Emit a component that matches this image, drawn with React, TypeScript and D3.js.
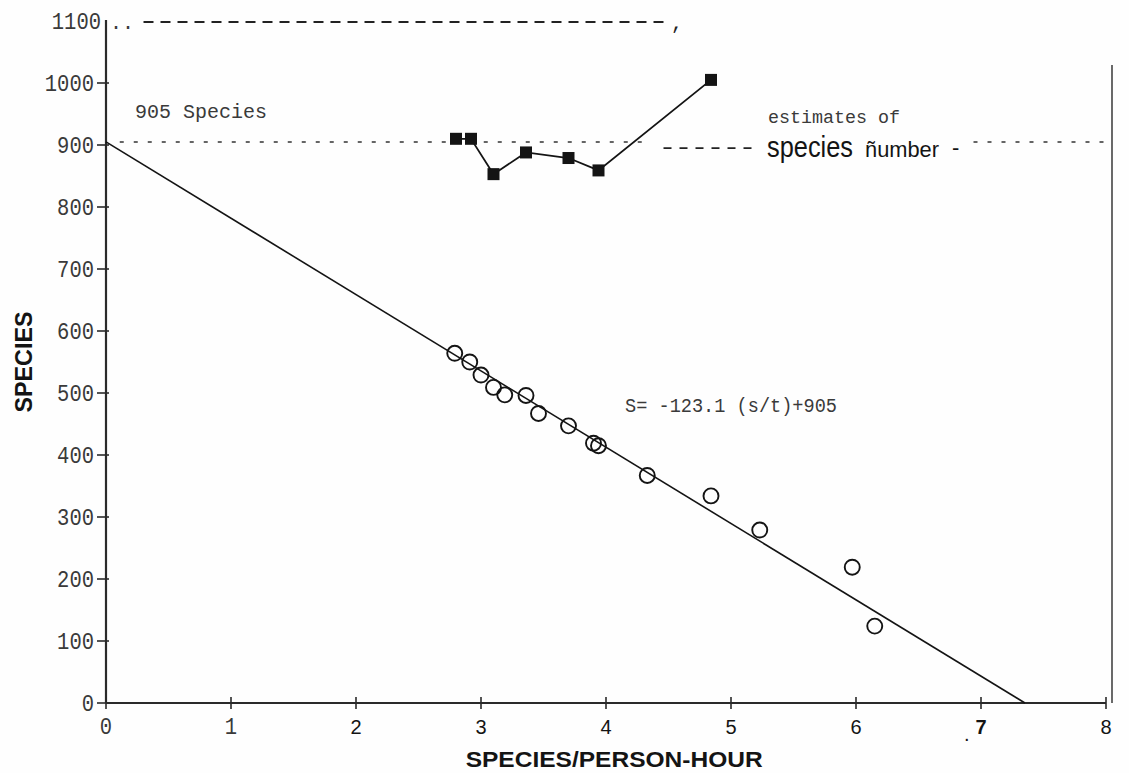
import React from "react";
import * as d3 from "d3";

// ---- data ----
const X_TICKS = [0, 1, 2, 3, 4, 5, 6, 7, 8];
const X_TICK_LABELS = ["0", "1", "2", "3", "4", "5", "6", "7", "8"];
const Y_TICKS = [0, 100, 200, 300, 400, 500, 600, 700, 800, 900, 1000, 1100];
const Y_TICK_LABELS = ["0", "100", "200", "300", "400", "500", "600", "700", "800", "900", "1000", "1100"];

// observed species counts vs species / person-hour (open circles)
const RATE = [2.79, 2.91, 3.0, 3.1, 3.19, 3.36, 3.46, 3.7, 3.9, 3.94, 4.33, 4.84, 5.23, 5.97, 6.15];
const SPECIES = [564, 550, 529, 509, 497, 496, 467, 447, 419, 415, 367, 334, 279, 219, 124];

// estimates of species number (filled squares)
const EST_RATE = [2.8, 2.92, 3.1, 3.36, 3.7, 3.94, 4.84];
const EST_NUMBER = [910, 910, 853, 888, 879, 859, 1005];

// regression S = -123.1 (s/t) + 905
const SLOPE = -123.1;
const INTERCEPT = 905;

const W = 1129;
const H = 773;

export default function App() {
  const xs = d3.scaleLinear().domain([0, 8]).range([106, 1106]);
  const ys = d3.scaleLinear().domain([0, 1000]).range([703, 83]);

  const mono = "'Liberation Mono', 'DejaVu Sans Mono', monospace";
  const sans = "'Liberation Sans', Arial, sans-serif";
  const ink = "#141414";
  const grey = "#3a3a3a";

  const circles = RATE.map((r, i) => ({ x: r, y: SPECIES[i] }));
  const squares = EST_RATE.map((r, i) => ({ x: r, y: EST_NUMBER[i] }));
  const line = d3
    .line<{ x: number; y: number }>()
    .x((d) => xs(d.x))
    .y((d) => ys(d.y));

  const xIntercept = -INTERCEPT / SLOPE;
  const y0 = ys(0);
  const x0 = xs(0);

  return (
    <svg
      width={W}
      height={H}
      style={{ position: "absolute", left: 0, top: 0, background: "#fefefe" }}
    >
      {/* axes */}
      <line x1={x0} x2={x0} y1={y0} y2={ys(1100) - 1} stroke="#2a2a2a" strokeWidth={2.2} />
      <line x1={x0} x2={xs(8)} y1={y0} y2={y0} stroke="#2a2a2a" strokeWidth={2.2} />
      <line x1={xs(8) + 6} x2={xs(8) + 6} y1={ys(1029)} y2={y0} stroke="#444" strokeWidth={1.6} />

      {/* y ticks */}
      {Y_TICKS.map((v, i) => (
        <g key={"y" + v}>
          {v < 1100 && (
            <line x1={x0 - 9} x2={x0 + 3} y1={ys(v)} y2={ys(v)} stroke="#2a2a2a" strokeWidth={1.6} />
          )}
          <text
            x={v === 1100 ? x0 - 5 : x0 - 12}
            y={ys(v) + 8}
            textAnchor="end"
            fontFamily={mono}
            fontSize={24}
            textLength={Y_TICK_LABELS[i].length * 12.3}
            lengthAdjust="spacingAndGlyphs"
            fill={grey}
          >
            {Y_TICK_LABELS[i]}
          </text>
        </g>
      ))}

      {/* x ticks */}
      {X_TICKS.map((v, i) => (
        <g key={"x" + v}>
          <line x1={xs(v)} x2={xs(v)} y1={y0 - 6} y2={y0 + 6} stroke="#2a2a2a" strokeWidth={1.6} />
          {i < 2 ? (
            <text
              x={xs(v)}
              y={y0 + 31}
              textAnchor="middle"
              fontFamily={mono}
              fontSize={24}
              textLength={12.3}
              lengthAdjust="spacingAndGlyphs"
              fill={grey}
            >
              {X_TICK_LABELS[i]}
            </text>
          ) : (
            <text
              x={xs(v)}
              y={y0 + 31}
              textAnchor="middle"
              fontFamily={sans}
              fontSize={20}
              fontWeight={v === 7 ? 700 : 400}
              fill={ink}
            >
              {X_TICK_LABELS[i]}
            </text>
          )}
        </g>
      ))}
      <text x={xs(7) - 17} y={y0 + 38} fontFamily={sans} fontSize={20} fill={ink}>
        .
      </text>

      {/* axis titles */}
      <text
        x={xs(4.065)}
        y={767}
        textAnchor="middle"
        fontFamily={sans}
        fontSize={22}
        fontWeight={700}
        textLength={297}
        lengthAdjust="spacingAndGlyphs"
        fill={ink}
      >
        SPECIES/PERSON-HOUR
      </text>
      <text
        transform="translate(32,362) rotate(-90)"
        textAnchor="middle"
        fontFamily={sans}
        fontSize={23}
        fontWeight={700}
        textLength={101}
        lengthAdjust="spacingAndGlyphs"
        fill={ink}
      >
        SPECIES
      </text>

      {/* 1100 dashed line */}
      <text x={x0 + 4} y={ys(1100) + 8} fontFamily={mono} fontSize={20} fill={grey}>
        ..
      </text>
      <line
        x1={xs(0.3)}
        x2={xs(4.49)}
        y1={ys(1100) + 1}
        y2={ys(1100) + 1}
        stroke="#222"
        strokeWidth={1.8}
        strokeDasharray="10 7"
      />
      <text x={xs(4.52)} y={ys(1100) + 8} fontFamily={mono} fontSize={20} fill="#222">
        ,
      </text>

      {/* 905 reference line */}
      <line
        x1={xs(0.11)}
        x2={xs(4.3)}
        y1={ys(905)}
        y2={ys(905)}
        stroke="#333"
        strokeWidth={1.5}
        strokeDasharray="4 10"
      />
      <line
        x1={xs(4.46)}
        x2={xs(5.2)}
        y1={ys(895)}
        y2={ys(895)}
        stroke="#222"
        strokeWidth={1.8}
        strokeDasharray="8 8"
      />
      <line
        x1={xs(6.94)}
        x2={xs(8.03)}
        y1={ys(905)}
        y2={ys(905)}
        stroke="#333"
        strokeWidth={1.5}
        strokeDasharray="4 10"
      />

      {/* annotations */}
      <text
        x={135}
        y={118}
        fontFamily={mono}
        fontSize={21}
        textLength={132}
        lengthAdjust="spacingAndGlyphs"
        fill={grey}
      >
        905 Species
      </text>
      <text
        x={768}
        y={123}
        fontFamily={mono}
        fontSize={18}
        textLength={132}
        lengthAdjust="spacingAndGlyphs"
        fill={grey}
      >
        estimates of
      </text>
      <text
        x={767}
        y={157}
        fontFamily={sans}
        fontSize={30}
        textLength={86}
        lengthAdjust="spacingAndGlyphs"
        fill={ink}
      >
        species
      </text>
      <text
        x={865}
        y={157}
        fontFamily={sans}
        fontSize={22}
        textLength={74}
        lengthAdjust="spacingAndGlyphs"
        fill={ink}
      >
        ñumber
      </text>
      <text x={952} y={155} fontFamily={sans} fontSize={22} fill={ink}>
        -
      </text>
      <text
        x={625}
        y={412}
        fontFamily={mono}
        fontSize={20}
        textLength={212}
        lengthAdjust="spacingAndGlyphs"
        fill={grey}
      >
        S= -123.1 (s/t)+905
      </text>

      {/* regression line */}
      <line
        x1={xs(0)}
        y1={ys(INTERCEPT)}
        x2={xs(xIntercept)}
        y2={ys(0)}
        stroke={ink}
        strokeWidth={1.6}
      />

      {/* estimates */}
      <path d={line(squares) || ""} fill="none" stroke={ink} strokeWidth={1.8} />
      {squares.map((d, i) => (
        <rect key={"s" + i} x={xs(d.x) - 6} y={ys(d.y) - 6} width={12} height={12} fill={ink} />
      ))}

      {/* observations */}
      {circles.map((d, i) => (
        <circle
          key={"c" + i}
          cx={xs(d.x)}
          cy={ys(d.y)}
          r={7.5}
          fill="none"
          stroke={ink}
          strokeWidth={1.9}
        />
      ))}
    </svg>
  );
}
